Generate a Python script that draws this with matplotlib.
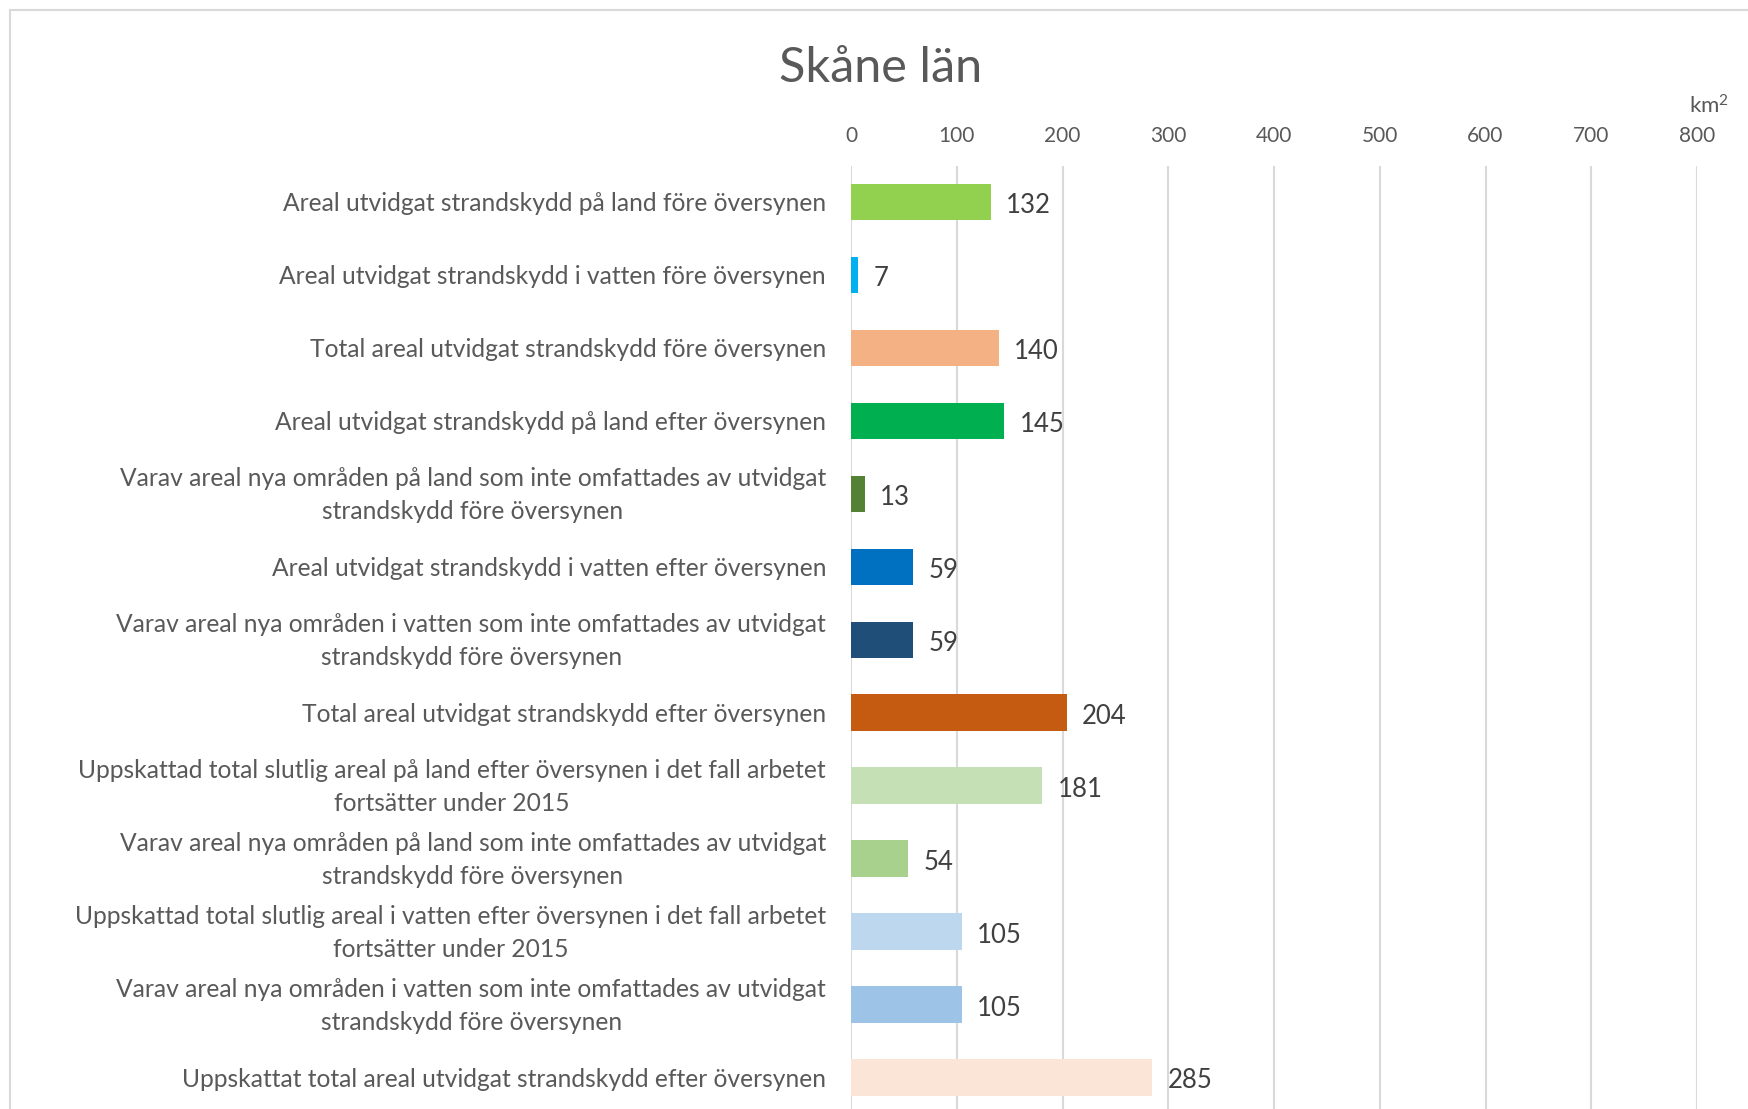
import numpy as np
import matplotlib
matplotlib.use('Agg')
import matplotlib.pyplot as plt
import matplotlib.transforms as mtransforms
from matplotlib.patches import Rectangle

# data (km2)
categories = [
    'Areal utvidgat strandskydd på land före översynen',
    'Areal utvidgat strandskydd i vatten före översynen',
    'Total areal utvidgat strandskydd före översynen',
    'Areal utvidgat strandskydd på land efter översynen',
    'Varav areal nya områden på land som inte omfattades av utvidgat\nstrandskydd före översynen',
    'Areal utvidgat strandskydd i vatten efter översynen',
    'Varav areal nya områden i vatten som inte omfattades av utvidgat\nstrandskydd före översynen',
    'Total areal utvidgat strandskydd efter översynen',
    'Uppskattad total slutlig areal på land efter översynen i det fall arbetet\nfortsätter under 2015',
    'Varav areal nya områden på land som inte omfattades av utvidgat\nstrandskydd före översynen',
    'Uppskattad total slutlig areal i vatten efter översynen i det fall arbetet\nfortsätter under 2015',
    'Varav areal nya områden i vatten som inte omfattades av utvidgat\nstrandskydd före översynen',
    'Uppskattat total areal utvidgat strandskydd efter översynen',
]
values = [132, 7, 140, 145, 13, 59, 59, 204, 181, 54, 105, 105, 285]
colors = ['#92D050', '#00B0F0', '#F4B183', '#00B050', '#548235', '#0070C0', '#1F4E79',
          '#C55A11', '#C5E0B4', '#A9D18E', '#BDD7EE', '#9DC3E6', '#FBE5D6']
xticks = [0, 100, 200, 300, 400, 500, 600, 700, 800]

plt.rcParams['font.family'] = ['Lato', 'DejaVu Sans']

W, H = 1748, 1109
fig = plt.figure(figsize=(W / 100, H / 100), dpi=100)
# chart frame (cut off at right and bottom like the screenshot)
fig.patches.append(Rectangle((10 / W, -0.1), 1.2, 1 - 10 / H + 0.1, transform=fig.transFigure,
                             fill=False, edgecolor='#D9D9D9', linewidth=1.5))

ax = fig.add_axes([851 / W, 1 - 1114 / H, 846 / W, 948.5 / H])
y = np.arange(len(values))
ax.barh(y, values, height=0.5, color=colors)
ax.set_ylim(len(values) - 0.5, -0.5)
ax.set_xlim(0, 800)

ax.xaxis.tick_top()
ax.set_xticks(xticks)
ax.tick_params(axis='x', length=0, pad=14, labelsize=15, labelcolor='#595959')
ax.grid(axis='x', color='#D9D9D9', linewidth=1.5)
ax.set_axisbelow(True)
for s in ax.spines.values():
    s.set_visible(False)

ax.set_yticks(y, categories)
ax.tick_params(axis='y', length=0, pad=18, labelsize=17.7, labelcolor='#595959')
# two-line labels sit a bit high in the original
shift_up = mtransforms.ScaledTranslation(0, 4 / 72, fig.dpi_scale_trans)
for t in ax.get_yticklabels():
    t.set_multialignment('center')
    t.set_linespacing(1.52)
    if '\n' in t.get_text():
        t.set_transform(t.get_transform() + shift_up)

for yi, v in zip(y, values):
    ax.annotate(str(v), (v, yi), xytext=(11, -2.5), textcoords='offset points',
                ha='left', va='center', fontsize=18.5, color='#404040')

fig.text(881 / W, 1 - 68 / H, 'Skåne län', ha='center', va='center', fontsize=35, color='#595959')
fig.text(1709 / W, 1 - 106 / H, 'km$\\mathregular{^2}$', ha='center', va='center', fontsize=16,
         color='#595959')

fig.savefig('out.png', dpi=100)
